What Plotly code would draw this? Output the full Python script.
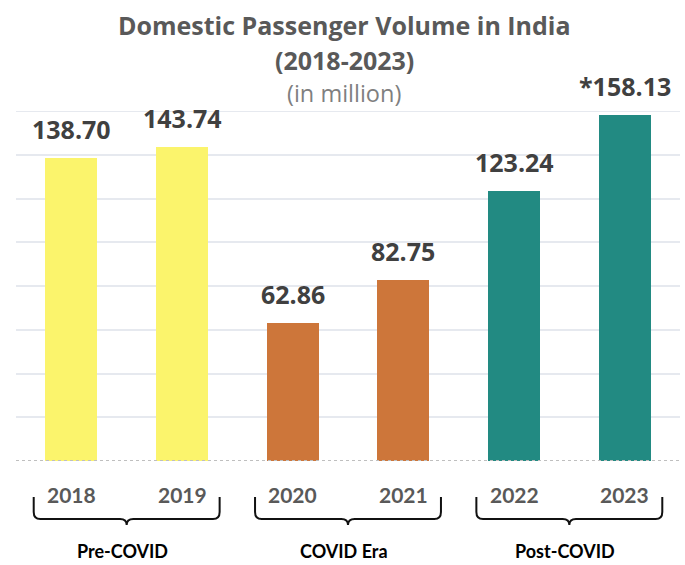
import plotly.graph_objects as go

years = ["2018", "2019", "2020", "2021", "2022", "2023"]
values = [138.70, 143.74, 62.86, 82.75, 123.24, 158.13]
value_labels = ["138.70", "143.74", "62.86", "82.75", "123.24", "*158.13"]
bar_colors = ["#FBF46C", "#FBF46C", "#CD763A", "#CD763A", "#228A82", "#228A82"]
groups = ["Pre-COVID", "COVID Era", "Post-COVID"]
group_starts = [0, 2, 4]
y_max = 160

W, H = 685, 565
top_px, bot_px, left_px, right_px = 111, 461, 16, 680
plot_h = bot_px - top_px

def py(p):
    return (bot_px - p) / plot_h

xs = list(range(len(years)))

fig = go.Figure()
fig.add_trace(go.Bar(
    x=xs, y=values, width=0.47,
    marker=dict(color=bar_colors, line=dict(width=0)),
    hoverinfo="skip",
))

annotations = []
# Title
annotations.append(dict(text="<b>Domestic Passenger Volume in India</b>", xref="paper", yref="paper",
                        x=0.494, y=py(25), showarrow=False, xanchor="center", yanchor="middle",
                        font=dict(family="Open Sans", size=25, color="#595959")))
annotations.append(dict(text="<b>(2018-2023)</b>", xref="paper", yref="paper",
                        x=0.494, y=py(60), showarrow=False, xanchor="center", yanchor="middle",
                        font=dict(family="Open Sans", size=25, color="#595959")))
annotations.append(dict(text="(in million)", xref="paper", yref="paper",
                        x=0.494, y=py(93), showarrow=False, xanchor="center", yanchor="middle",
                        font=dict(family="Open Sans", size=23.5, color="#7F7F7F")))

# Data labels
for x, v, t in zip(xs, values, value_labels):
    annotations.append(dict(text="<b>%s</b>" % t, x=x, y=v, xref="x", yref="y",
                            showarrow=False, xanchor="center", yanchor="middle", yshift=29,
                            font=dict(family="Open Sans", size=25, color="#404040")))

# Year labels
for x, yr in zip(xs, years):
    annotations.append(dict(text="<b>%s</b>" % yr, x=x, y=py(494), xref="x", yref="paper",
                            showarrow=False, xanchor="center", yanchor="middle",
                            font=dict(family="Lato", size=21, color="#595959")))

shapes = []
# Top gridline (at the range edge)
shapes.append(dict(type="line", xref="paper", yref="y", x0=0, x1=1, y0=y_max, y1=y_max,
                   layer="below", line=dict(color="#E6E9EF", width=2)))

# Braces and group labels
ext = 0.34
for g, s in zip(groups, group_starts):
    x0 = s - ext
    x1 = s + 1 + ext
    tip = s + 0.5
    d = 0.06
    yt, yc, ym, yp = py(497), py(512), py(519), py(525)
    path = (f"M {x0},{yt} L {x0},{yc} Q {x0},{ym} {x0+d},{ym} "
            f"L {tip-d},{ym} Q {tip},{ym} {tip},{yp} Q {tip},{ym} {tip+d},{ym} "
            f"L {x1-d},{ym} Q {x1},{ym} {x1},{yc} L {x1},{yt}")
    shapes.append(dict(type="path", path=path, xref="x", yref="paper",
                       line=dict(color="#111111", width=2)))
    annotations.append(dict(text="<b>%s</b>" % g, x=tip - 0.04, y=py(551), xref="x", yref="paper",
                            showarrow=False, xanchor="center", yanchor="middle",
                            font=dict(family="Lato", size=18, color="#000000")))

# Baseline
shapes.append(dict(type="line", xref="paper", yref="y", x0=0, x1=1, y0=0, y1=0,
                   line=dict(color="#BFBFBF", width=2, dash="dot")))

fig.update_layout(
    width=W, height=H,
    margin=dict(l=left_px, r=W - right_px, t=top_px, b=H - bot_px, pad=0),
    paper_bgcolor="white", plot_bgcolor="white",
    showlegend=False,
    xaxis=dict(range=[-0.5, 5.5], showticklabels=False, showgrid=False, zeroline=False,
               ticks="", fixedrange=True),
    yaxis=dict(range=[0, y_max], dtick=20, showticklabels=False, showgrid=True,
               gridcolor="#E6E9EF", gridwidth=2, zeroline=False, ticks="", fixedrange=True),
    annotations=annotations,
    shapes=shapes,
    bargap=0,
)

fig.write_html("out.html", config={"displayModeBar": False},
               post_script="document.body.style.margin='0';document.body.style.padding='0';")
